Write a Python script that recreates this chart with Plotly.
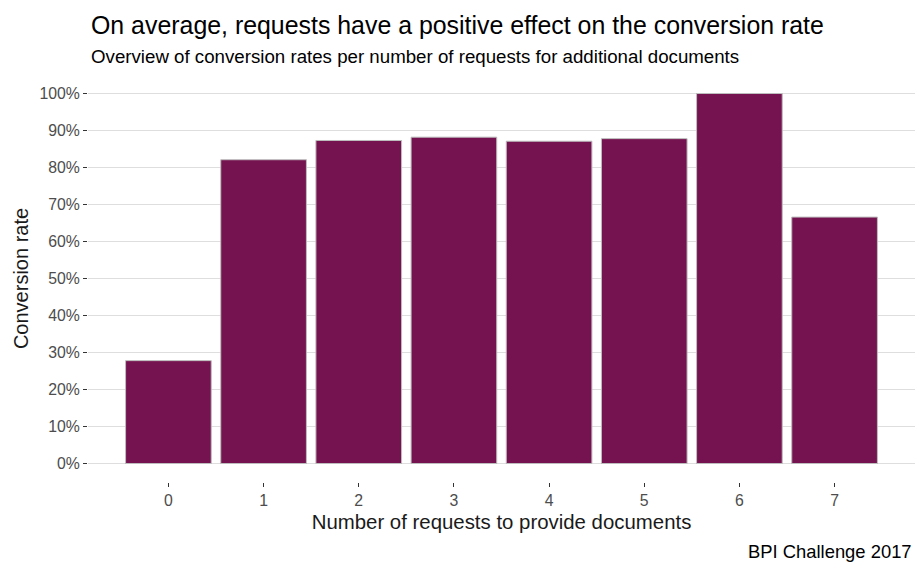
import plotly.graph_objects as go

# Conversion rate per number of document requests
requests = [0, 1, 2, 3, 4, 5, 6, 7]
conversion_rate = [0.278, 0.821, 0.873, 0.882, 0.871, 0.878, 1.0, 0.666]
y_ticks = [0, 0.1, 0.2, 0.3, 0.4, 0.5, 0.6, 0.7, 0.8, 0.9, 1.0]
y_tick_labels = [f"{int(round(v * 100))}%" for v in y_ticks]

FONT = "Liberation Sans, Arial, sans-serif"
W, H = 917, 562
M_L, M_R, M_T, M_B = 88, 2, 75, 80
plot_w = W - M_L - M_R
plot_h = H - M_T - M_B


def px_x(px):
    return (px - M_L) / plot_w


def px_y(py):
    return (H - M_B - py) / plot_h


fig = go.Figure(
    go.Bar(
        x=requests,
        y=conversion_rate,
        width=0.9,
        marker=dict(color="#751350", line=dict(color="#BDBDBD", width=1)),
        hoverinfo="x+y",
    )
)

annotations = [
    dict(
        text="On average, requests have a positive effect on the conversion rate",
        x=px_x(89), y=px_y(25), xref="paper", yref="paper",
        xanchor="left", yanchor="middle", showarrow=False,
        font=dict(size=24.9, color="#000000", family=FONT),
    ),
    dict(
        text="Overview of conversion rates per number of requests for additional documents",
        x=px_x(89), y=px_y(57), xref="paper", yref="paper",
        xanchor="left", yanchor="middle", showarrow=False,
        font=dict(size=18.7, color="#000000", family=FONT),
    ),
    dict(
        text="BPI Challenge 2017",
        x=px_x(914), y=px_y(551), xref="paper", yref="paper",
        xanchor="right", yanchor="middle", showarrow=False,
        font=dict(size=18.4, color="#000000", family=FONT),
    ),
]

fig.update_layout(
    width=W,
    height=H,
    margin=dict(l=M_L, r=M_R, t=M_T, b=M_B),
    paper_bgcolor="white",
    plot_bgcolor="white",
    showlegend=False,
    font=dict(family=FONT, color="#4D4D4D"),
    xaxis=dict(
        range=[-0.845, 7.845],
        tickmode="array",
        tickvals=requests,
        ticktext=[str(r) for r in requests],
        showgrid=False,
        zeroline=False,
        showline=False,
        ticks="outside",
        ticklen=4,
        tickcolor="#333333",
        tickwidth=1,
        tickfont=dict(size=15.8, color="#4D4D4D"),
        title=dict(
            text="Number of requests to provide documents",
            font=dict(size=20.4, color="#1A1A1A"),
            standoff=6,
        ),
    ),
    yaxis=dict(
        range=[-0.05, 1.05],
        tickmode="array",
        tickvals=y_ticks,
        ticktext=y_tick_labels,
        showgrid=True,
        gridcolor="#DEDEDE",
        gridwidth=1,
        zeroline=False,
        showline=False,
        ticks="outside",
        ticklen=4,
        tickcolor="#333333",
        tickwidth=1,
        tickfont=dict(size=15.8, color="#4D4D4D"),
        title=dict(
            text="Conversion rate",
            font=dict(size=20, color="#1A1A1A"),
            standoff=5,
        ),
    ),
    annotations=annotations,
)

fig.write_html("out.html")
